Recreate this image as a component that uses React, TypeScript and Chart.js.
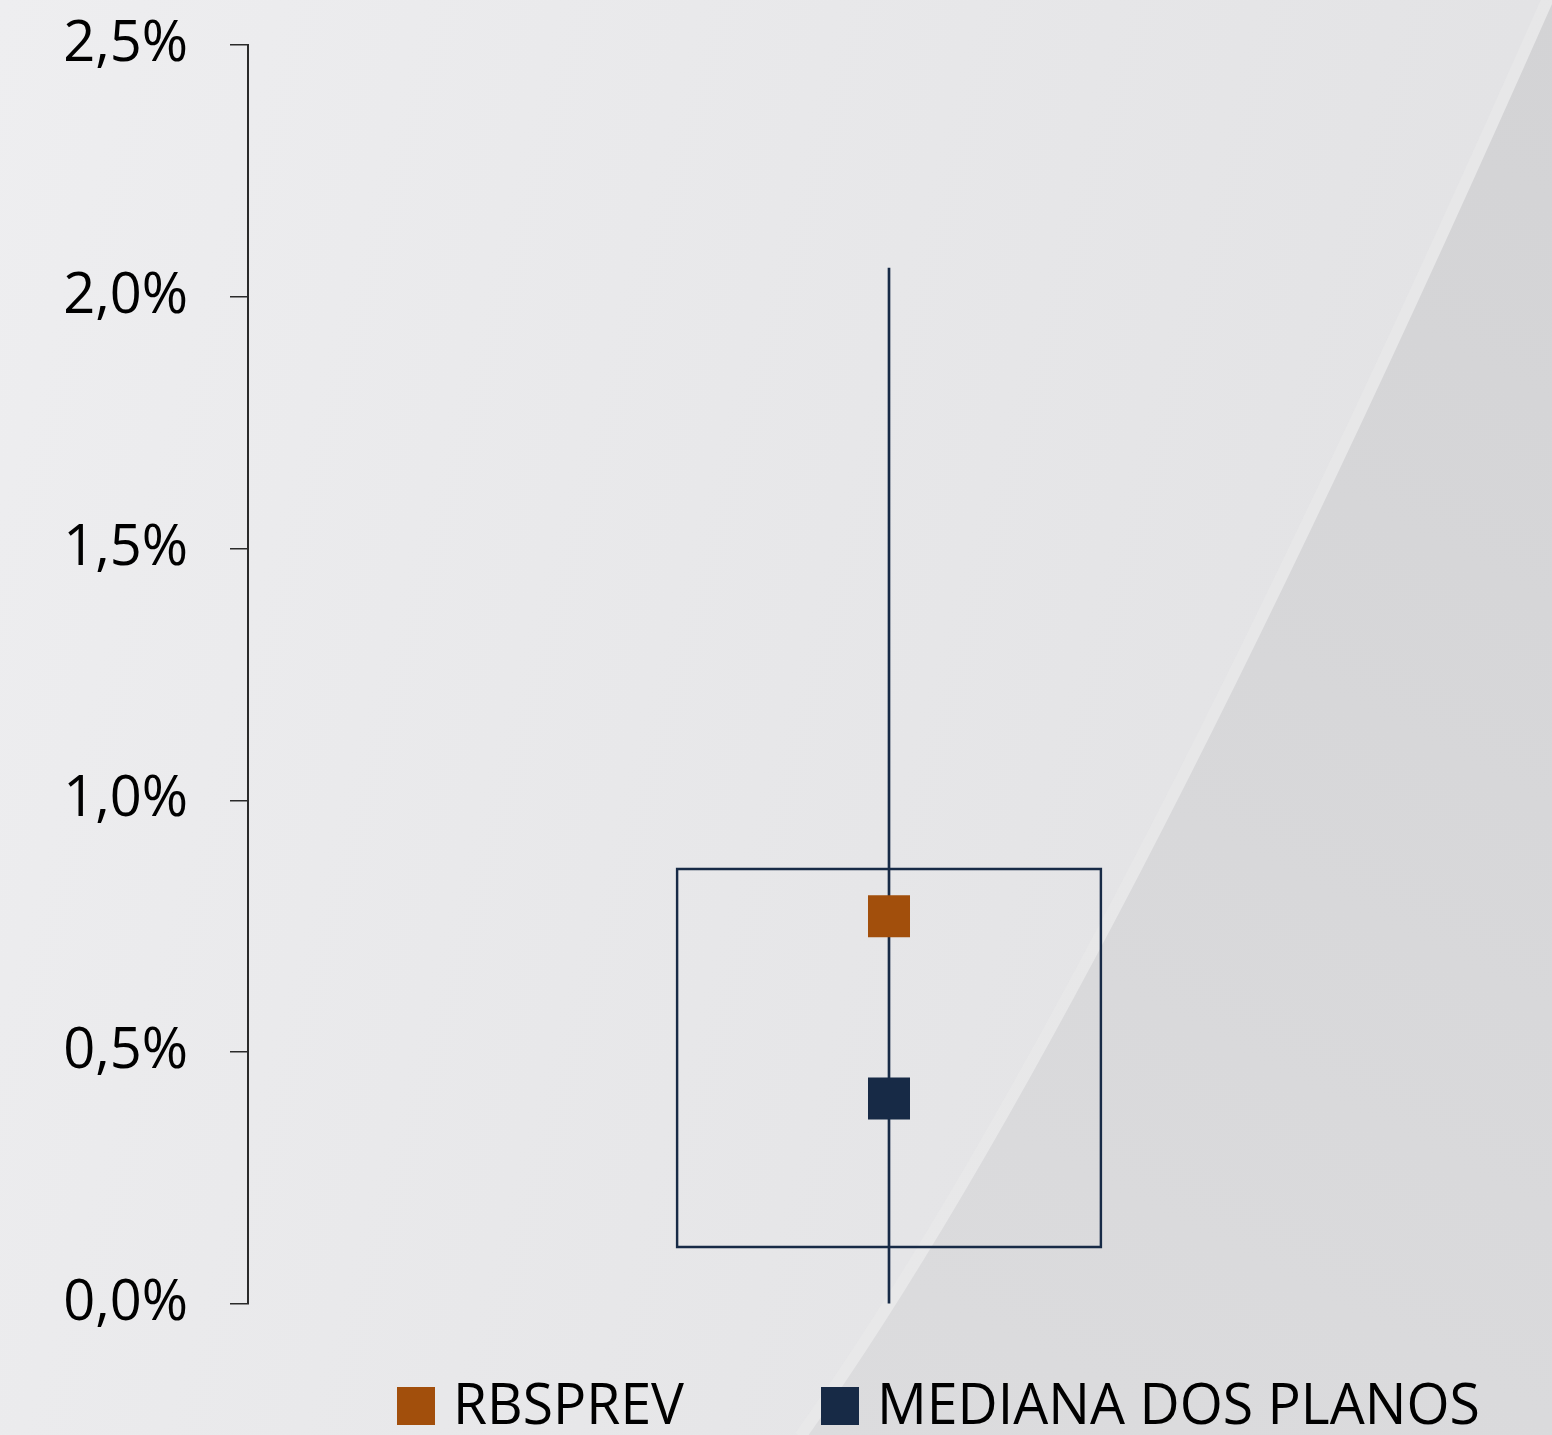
import React, { useEffect, useRef } from 'react';
import { Chart, registerables } from 'chart.js';

Chart.register(...registerables);

// ---- data ----
const categories = [''];
const whiskerRange: [number, number] = [0.0, 2.057];
const boxRange: [number, number] = [0.111, 0.866];
const rbsprevValues = [0.77];
const medianValues = [0.408];
const yTickValues = [0, 0.5, 1.0, 1.5, 2.0, 2.5];
const yTickLabels = ['0,0%', '0,5%', '1,0%', '1,5%', '2,0%', '2,5%'];
const seriesNames = ['RBSPREV', 'MEDIANA DOS PLANOS'];

// ---- styles ----
const NAVY = '#172a46';
const ORANGE = '#a24f0c';
const AXIS = '#2a2a2a';
const FONT = '"Open Sans", "DejaVu Sans", sans-serif';

const backgroundPlugin = {
  id: 'bgPanel',
  beforeDraw(chart: any) {
    const { ctx, width, height } = chart;
    ctx.save();
    const g = ctx.createLinearGradient(0, 0, width, height * 0.3);
    g.addColorStop(0, '#eeeef0');
    g.addColorStop(1, '#e2e2e4');
    ctx.fillStyle = g;
    ctx.fillRect(0, 0, width, height);
    const path = () => {
      ctx.beginPath();
      ctx.moveTo(1556, -5);
      ctx.quadraticCurveTo(1099.5, 1028.5, 805, 1440);
    };
    // subtle highlight band
    path();
    ctx.strokeStyle = 'rgba(234,234,236,0.45)';
    ctx.lineWidth = 24;
    ctx.stroke();
    // dark region
    path();
    ctx.lineTo(width + 10, height + 10);
    ctx.lineTo(width + 10, -5);
    ctx.closePath();
    const g2 = ctx.createLinearGradient(width, 0, 800, height);
    g2.addColorStop(0, '#d3d3d5');
    g2.addColorStop(1, '#dcdcde');
    ctx.fillStyle = g2;
    ctx.fill();
    ctx.restore();
  },
};

const legendPlugin = {
  id: 'customLegend',
  afterDraw(chart: any) {
    const { ctx } = chart;
    const items = [
      { ds: 0, sqX: 397, txtX: 453, txtW: 231 },
      { ds: 1, sqX: 821, txtX: 877, txtW: 603 },
    ];
    ctx.save();
    for (const it of items) {
      const ds = chart.data.datasets[it.ds];
      ctx.fillStyle = ds.backgroundColor;
      ctx.fillRect(it.sqX, 1387, 38, 38);
      ctx.font = `57px ${FONT}`;
      ctx.fillStyle = '#000';
      ctx.textBaseline = 'alphabetic';
      const w = ctx.measureText(ds.label).width;
      const sx = it.txtW / w;
      ctx.save();
      ctx.translate(it.txtX, 1424);
      ctx.scale(sx, 1);
      ctx.fillText(ds.label, 0, 0);
      ctx.restore();
    }
    ctx.restore();
  },
};

function BoxChart() {
  const ref = useRef<HTMLCanvasElement | null>(null);
  useEffect(() => {
    document.body.style.margin = '0';
    if (!ref.current) return;
    const chart = new Chart(ref.current, {
      type: 'bar',
      data: {
        labels: categories,
        datasets: [
          {
            type: 'line',
            label: seriesNames[0],
            data: rbsprevValues,
            showLine: false,
            pointStyle: 'rect',
            pointRadius: 29.7,
            pointBorderWidth: 0,
            backgroundColor: ORANGE,
            borderColor: ORANGE,
            order: 0,
          } as any,
          {
            type: 'line',
            label: seriesNames[1],
            data: medianValues,
            showLine: false,
            pointStyle: 'rect',
            pointRadius: 29.7,
            pointBorderWidth: 0,
            backgroundColor: NAVY,
            borderColor: NAVY,
            order: 1,
          } as any,
          {
            type: 'bar',
            label: 'whisker',
            data: [whiskerRange],
            barThickness: 2,
            backgroundColor: NAVY,
            borderWidth: 0,
            grouped: false,
            order: 2,
          } as any,
          {
            type: 'bar',
            label: 'box',
            data: [boxRange],
            barThickness: 426,
            backgroundColor: 'rgba(0,0,0,0)',
            borderColor: NAVY,
            borderWidth: 2,
            borderSkipped: false,
            grouped: false,
            order: 3,
          } as any,
        ],
      },
      options: {
        animation: false,
        responsive: false,
        maintainAspectRatio: false,
        layout: { autoPadding: false, padding: { top: 45, right: 22, bottom: 131, left: 0 } },
        plugins: {
          legend: { display: false },
          tooltip: { enabled: false },
        },
        scales: {
          x: { display: false, offset: true },
          y: {
            min: 0,
            max: 2.5,
            afterBuildTicks: (s: any) => {
              s.ticks = yTickValues.map((v) => ({ value: v }));
            },
            afterFit: (s: any) => {
              s.width = 248;
              s.paddingTop = 0;
              s.paddingBottom = 0;
            },
            ticks: {
              color: '#000',
              padding: 42,
              font: { family: FONT, size: 56 },
              callback: (v: any) => {
                const i = yTickValues.findIndex((t) => Math.abs(t - Number(v)) < 1e-9);
                return i >= 0 ? yTickLabels[i] : '';
              },
            },
            grid: {
              display: true,
              drawOnChartArea: false,
              drawTicks: true,
              tickLength: 18,
              color: AXIS,
              lineWidth: 1.5,
            },
            border: { display: true, color: AXIS, width: 2 },
          },
        },
      },
      plugins: [backgroundPlugin, legendPlugin],
    });
    return () => chart.destroy();
  }, []);
  return <canvas ref={ref} width={1552} height={1435} style={{ display: 'block' }} />;
}

export default function App() {
  return <BoxChart />;
}
